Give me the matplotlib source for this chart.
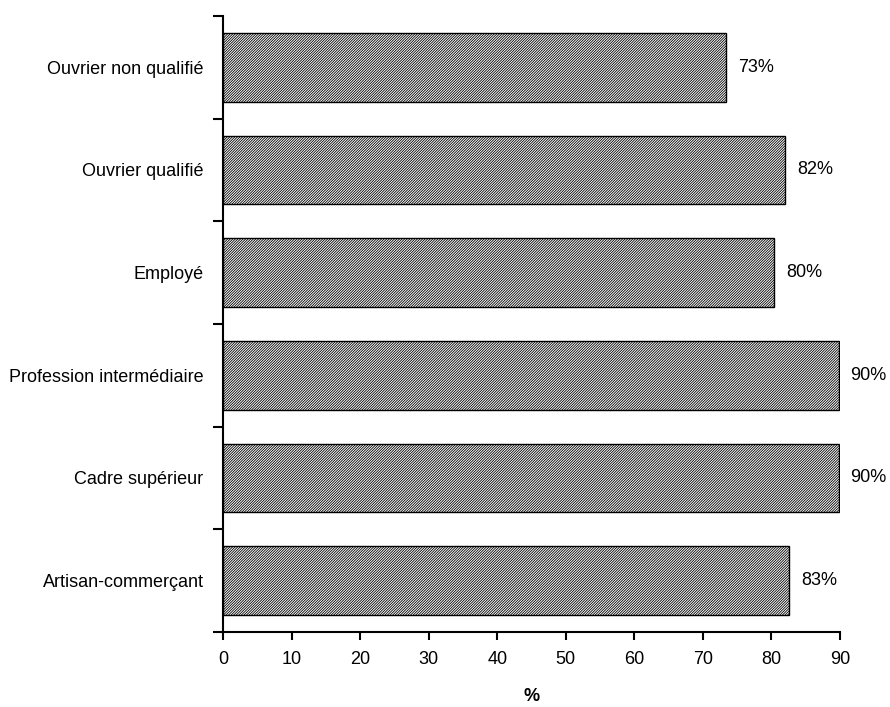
import numpy as np
import matplotlib.pyplot as plt
from matplotlib.ticker import FixedLocator

# Données (de bas en haut)
categories = ["Artisan-commerçant", "Cadre supérieur", "Profession intermédiaire",
              "Employé", "Ouvrier qualifié", "Ouvrier non qualifié"]
valeurs = [82.6, 89.8, 89.8, 80.4, 82.0, 73.4]
etiquettes = ["83%", "90%", "90%", "80%", "82%", "73%"]

plt.rcParams['font.family'] = ['Liberation Sans', 'DejaVu Sans']
plt.rcParams['hatch.linewidth'] = 0.6

fig = plt.figure(figsize=(8.9, 7.07), dpi=100)
ax = fig.add_axes([0.2506, 0.1061, 0.6932, 0.8713])

y = np.arange(len(categories))
ax.barh(y, valeurs, height=0.67, color="white", edgecolor="black",
        hatch="/" * 13, linewidth=1.0)

for yi, v, lab in zip(y, valeurs, etiquettes):
    ax.text(v + 1.7, yi, lab, va="center", ha="left", fontsize=13)

ax.set_xlim(0, 90)
ax.set_ylim(-0.5, 5.5)
ax.set_xticks(np.arange(0, 91, 10))
ax.set_yticks(y)
ax.set_yticklabels(categories)
ax.yaxis.set_minor_locator(FixedLocator(np.arange(-0.5, 6, 1)))
ax.tick_params(axis="y", which="major", length=0, pad=14, labelsize=13)
ax.tick_params(axis="y", which="minor", length=7, width=1.5, direction="out")
ax.tick_params(axis="x", length=6, width=1.5, direction="out", pad=8, labelsize=13)

for s in ["top", "right"]:
    ax.spines[s].set_visible(False)
for s in ["left", "bottom"]:
    ax.spines[s].set_linewidth(1.5)

ax.set_xlabel("%", fontsize=13, fontweight="bold", labelpad=14)

fig.savefig("out.png", dpi=100)
